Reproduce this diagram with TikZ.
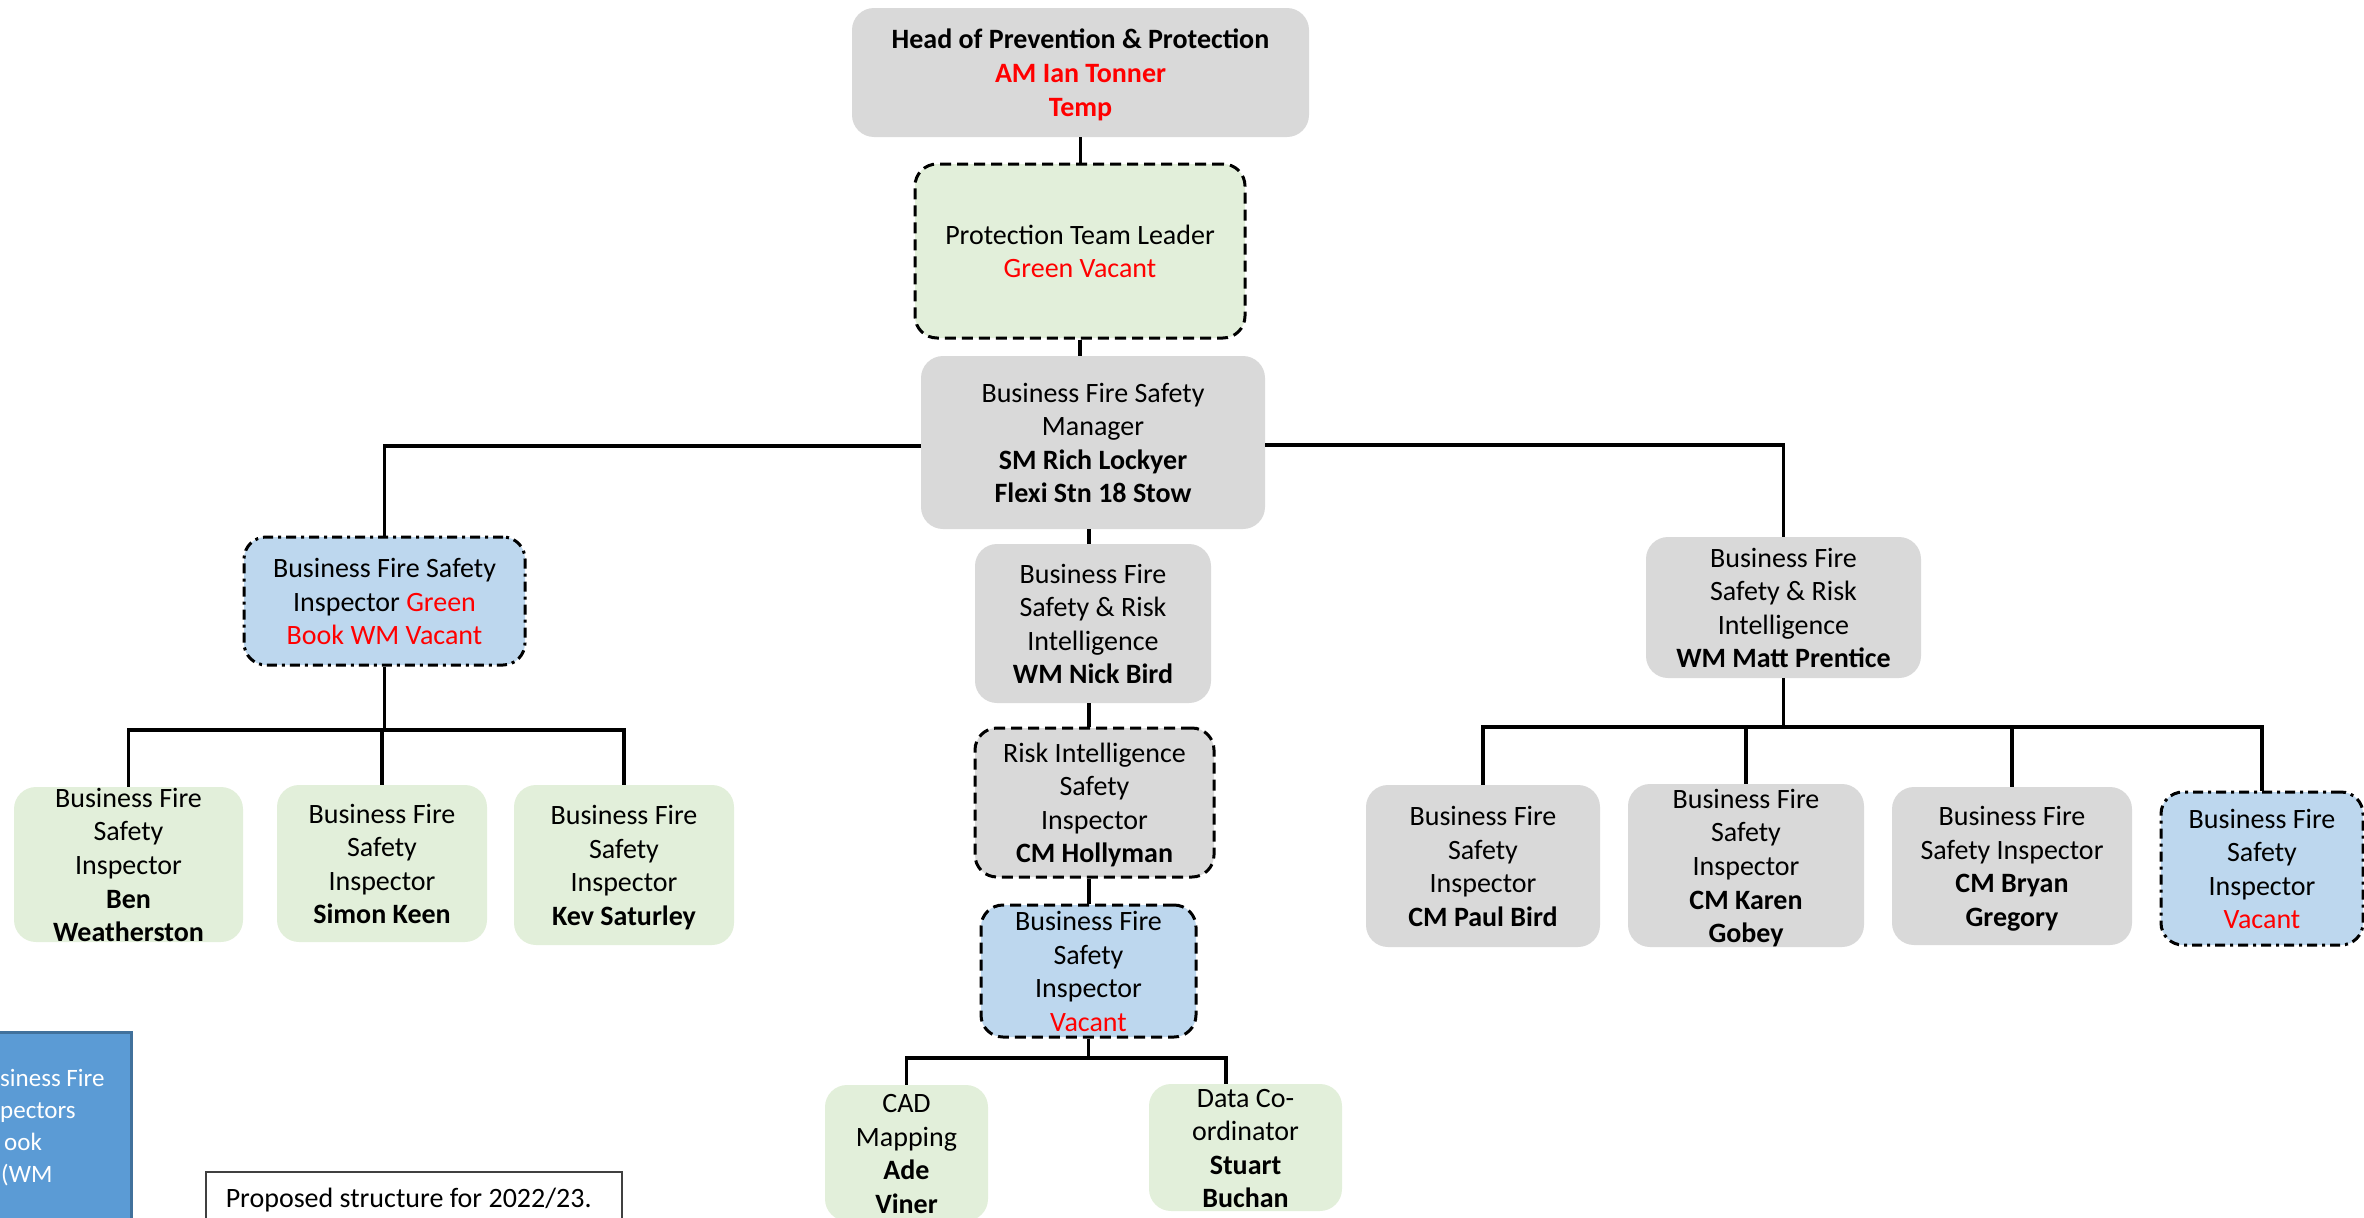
\documentclass[tikz,border=0pt]{standalone}
\usepackage{fontspec}
\setmainfont{Carlito}
\definecolor{boxgrey}{HTML}{D9D9D9}
\definecolor{boxgreen}{HTML}{E2EFDA}
\definecolor{boxblue}{HTML}{BDD7EE}
\definecolor{vacred}{HTML}{FF0000}
\definecolor{notefill}{HTML}{5B9BD5}
\definecolor{noteline}{HTML}{41719C}
\newcommand\redtxt[1]{\textcolor{vacred}{#1}}
% struts that fix the height of the first and the depth of the last line,
% so that every block of text sits centred in its box
\newcommand\topst{\rule{0pt}{28pt}}
\newcommand\botst{\rule[-8pt]{0pt}{8pt}}
\begin{document}
\begin{tikzpicture}[x=1pt,y=-1pt,
  post/.style={rounded corners=22pt, align=center, inner xsep=0pt, inner ysep=-40pt,
    font=\fontsize{28}{33.6}\selectfont},
  greybox/.style={post, fill=boxgrey},
  greenbox/.style={post, fill=boxgreen},
  bluebox/.style={post, fill=boxblue},
  dashedborder/.style={draw=black, line width=3pt, dash pattern=on 11pt off 6pt},
  dashdotborder/.style={draw=black, line width=3pt, dash pattern=on 10pt off 5pt on 3pt off 5pt},
  wire/.style={draw=black, line width=3.8pt},
  sz/.style 2 args={minimum width=#1pt, minimum height=#2pt}]

\useasboundingbox (0,0) rectangle (2364,1218);
\clip (0,0) rectangle (2364,1218);

% ---------- top of the structure ----------
\node[greybox, sz={457}{129}] (head) at (1080.5,72.5)
  {\topst\bfseries Head of Prevention \& Protection\\ \bfseries\redtxt{AM Ian Tonner}\\ \bfseries\redtxt{Temp}\botst};
\node[greenbox, dashedborder, sz={330}{174}] (ptl) at (1080,251)
  {\topst Protection Team Leader\\ \redtxt{Green Vacant}\botst};
\node[greybox, sz={344}{173}] (mgr) at (1093,442.5)
  {\topst Business Fire Safety\\ Manager\\ \textbf{SM Rich Lockyer}\\ \textbf{Flexi Stn 18 Stow}\botst};

% ---------- centre column ----------
\node[greybox, sz={236}{159}] (nick) at (1093,623.5)
  {\topst Business Fire\\ Safety \& Risk\\ Intelligence\\ \textbf{WM Nick Bird}\botst};
\node[greybox, dashedborder, sz={239}{149}] (holly) at (1094.5,802.5)
  {\topst Risk Intelligence\\ Safety\\ Inspector\\ \textbf{CM Hollyman}\botst};
\node[bluebox, dashedborder, sz={215}{132}] (mvac) at (1088.5,971)
  {\topst Business Fire\\ Safety\\ Inspector\\ \redtxt{Vacant}\botst};
\node[greenbox, sz={163}{136}] (cad) at (906.5,1153)
  {\topst CAD\\ Mapping\\ \textbf{Ade}\\ \textbf{Viner}\botst};
\node[greenbox, sz={193}{127}] (data) at (1245.5,1147.5)
  {\topst Data Co-\\ ordinator\\ \textbf{Stuart}\\ \textbf{Buchan}\botst};

% ---------- left branch ----------
\node[bluebox, dashdotborder, sz={281}{128}] (bfsig) at (384.5,601)
  {\topst Business Fire Safety\\ Inspector \redtxt{Green}\\ \redtxt{Book WM Vacant}\botst};
\node[greenbox, sz={229}{155}] (ben) at (128.5,864.5)
  {\topst Business Fire\\ Safety\\ Inspector\\ \textbf{Ben}\\ \textbf{Weatherston}\botst};
\node[greenbox, sz={210}{157}] (simon) at (382,863.5)
  {\topst Business Fire\\ Safety\\ Inspector\\ \textbf{Simon Keen}\botst};
\node[greenbox, sz={220}{160}] (kev) at (624,865)
  {\topst Business Fire\\ Safety\\ Inspector\\ \textbf{Kev Saturley}\botst};

% ---------- right branch ----------
\node[greybox, sz={275}{141}] (matt) at (1783.5,607.5)
  {\topst Business Fire\\ Safety \& Risk\\ Intelligence\\ \textbf{WM Matt Prentice}\botst};
\node[greybox, sz={234}{162}] (paul) at (1483,866)
  {\topst Business Fire\\ Safety\\ Inspector\\ \textbf{CM Paul Bird}\botst};
\node[greybox, sz={236}{163}] (karen) at (1746,865.5)
  {\topst Business Fire\\ Safety\\ Inspector\\ \textbf{CM Karen}\\ \textbf{Gobey}\botst};
\node[greybox, sz={240}{158}] (bryan) at (2012,866)
  {\topst Business Fire\\ Safety Inspector\\ \textbf{CM Bryan}\\ \textbf{Gregory}\botst};
\node[bluebox, dashdotborder, sz={202}{153}] (rvac) at (2262,868.5)
  {\topst Business Fire\\ Safety\\ Inspector\\ \redtxt{Vacant}\botst};

% ---------- bus points ----------
\coordinate (lbus) at (384,730);
\coordinate (rbus) at (1786,727);
\coordinate (mbus) at (1088.5,1058);
\coordinate (dtop) at (1226,1084);

% ---------- connectors ----------
\draw[wire] (head.south) -- (head.south |- ptl.north);
\draw[wire] (ptl.south) -- (ptl.south |- mgr.north);
\draw[wire] ([yshift=-3.5pt]mgr.west) -| (bfsig.north);
\draw[wire] ([yshift=-2.5pt]mgr.east) -| (matt.north);
\draw[wire] ([xshift=-4pt]mgr.south) -- ([xshift=-4pt]mgr.south |- nick.north);
\draw[wire] ([xshift=-4pt]nick.south) -- ([xshift=-4pt]nick.south |- holly.north);
\draw[wire] ([xshift=-5.5pt]holly.south) -- ([xshift=-5.5pt]holly.south |- mvac.north);
\draw[wire] (mvac.south) -- (mbus);
\draw[wire] (cad.north) |- (mbus) -| (dtop);

\draw[wire] (bfsig.south) -- (bfsig.south |- lbus);
\draw[wire] (ben.north) |- (lbus) -| (kev.north);
\draw[wire] (simon.north) -- (simon.north |- lbus);

\draw[wire] (matt.south) -- (matt.south |- rbus);
\draw[wire] (paul.north) |- (rbus) -| (rvac.north);
\draw[wire] (karen.north) -- (karen.north |- rbus);
\draw[wire] (bryan.north) -- (bryan.north |- rbus);

% ---------- side note and caption ----------
\node[fill=notefill, draw=noteline, line width=3pt, minimum width=160pt, minimum height=220pt,
  anchor=north east, inner sep=0pt] (note) at (133,1031) {};
\node[anchor=north west, align=left, text=white, inner sep=0pt,
  font=\fontsize{25}{32}\selectfont] (notetext) at (0,1069)
  {siness Fire\\ pectors\\ \hspace*{4pt}ook\\ \hspace*{1pt}(WM};

\node[draw=black!75, line width=1.5pt, fill=white, anchor=north west, align=flush left,
  text width=376pt, inner xsep=20pt, inner ysep=0pt, minimum height=56pt,
  font=\fontsize{28}{33}\selectfont] (caption) at (205,1171)
  {Proposed structure for 2022/23.};
\end{tikzpicture}
\end{document}
